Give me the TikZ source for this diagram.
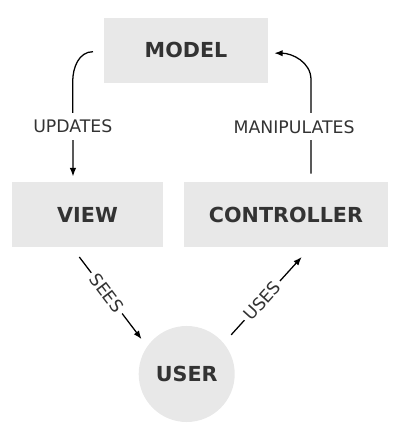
\documentclass[tikz,border=0pt]{standalone}
\usepackage{fontspec}
\setmainfont{DejaVu Sans}
\usetikzlibrary{arrows.meta,calc}
\definecolor{boxgray}{HTML}{E8E8E8}
\definecolor{textgray}{HTML}{333333}

\begin{document}
\begin{tikzpicture}[
            x=0.025cm, y=0.025cm,
            box/.style={fill=boxgray, text=textgray, inner sep=0pt, minimum height=1.625cm,
                font=\fontsize{14.7}{17}\selectfont\bfseries},
            lbl/.style={fill=white, text=textgray, inner xsep=2.5pt, inner ysep=5pt,
                font=\fontsize{12.3}{14}\selectfont},
            arr/.style={line width=0.9pt, -{Latex[length=6pt,width=4.6pt]}},
            % every node/.style = {draw},
            ]
            \useasboundingbox (0,0) rectangle (400,440);
            \node[box, minimum width=4.1cm] (model) at (186,389.8) {MODEL};
            \node[box, minimum width=3.76cm] (view) at (87.5,225.2) {VIEW};
            \node[box, minimum width=5.085cm] (controller) at (286,225.2) {CONTROLLER};
            \node[box, circle, minimum size=2.4cm] (user) at (186.7,66) {USER};

            \draw[arr] ($(model.west)+(-10.7,-1.5)$) to[out=180,in=90] ++(-20.3,-30)
                -- ($(view.north)+(-14.5,5.6)$) node[lbl, pos=0.47] {UPDATES};
            \draw[arr] ($(controller.north)+(25,8.3)$) -- ++(0,94)
                node[lbl, pos=0.5, xshift=-12pt] {MANIPULATES}
                to[out=90,in=0] ($(model.east)+(6,-3)$);
            \draw[arr] ($(view.south)+(-8.2,-9.4)$) -- ($(user.north west)+(-11,0.7)$)
                node[lbl, sloped, pos=0.44] {SEES};
            \draw[arr] ($(user.north east)+(10.3,5)$) -- ($(controller.south)+(15.7,-9.4)$)
                node[lbl, sloped, pos=0.44] {USES};
        \end{tikzpicture}
\end{document}
